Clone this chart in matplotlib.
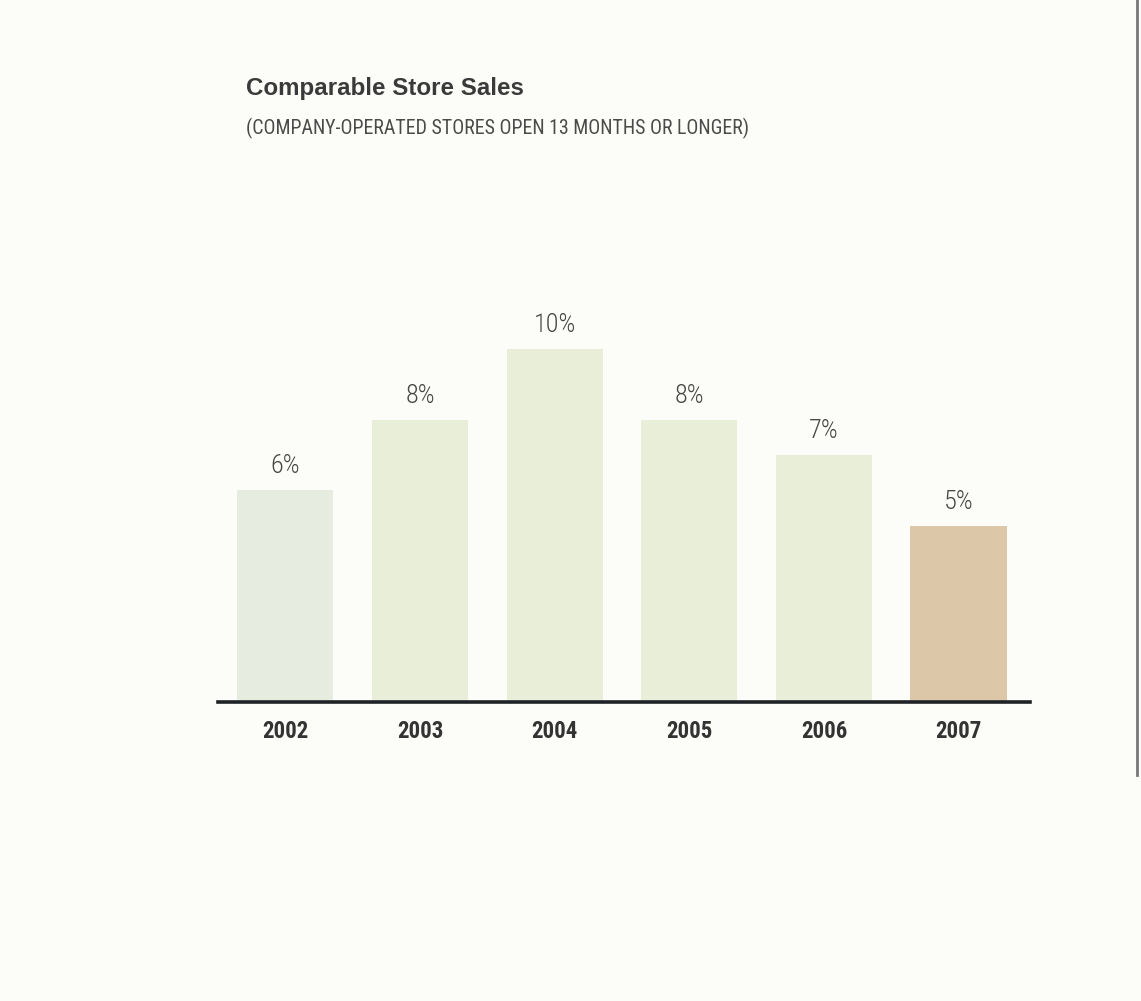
import matplotlib
matplotlib.use("Agg")
import matplotlib.pyplot as plt
from matplotlib.lines import Line2D

years = ["2002", "2003", "2004", "2005", "2006", "2007"]
values = [6, 8, 10, 8, 7, 5]
labels = ["6%", "8%", "10%", "8%", "7%", "5%"]
colors = ["#e6ecdf", "#e9eed9", "#e9eed9", "#e9eed9", "#e9eed9", "#dcc7a8"]

W, H = 1141, 1001
fig = plt.figure(figsize=(W / 100, H / 100), dpi=100)
fig.patch.set_facecolor("#fcfcf8")

cond = ["Roboto Condensed", "DejaVu Sans"]

ax = fig.add_axes([218 / W, (H - 702) / H, 812 / W, 402 / H])
ax.set_facecolor("none")
x = list(range(len(years)))
ax.bar(x, values, width=0.715, color=colors, edgecolor="none", zorder=1)
ax.set_xlim(-0.5, 5.53)
ax.set_ylim(0, 11.39)

for xi, v, lab in zip(x, values, labels):
    ax.text(xi, v + 0.34, lab, ha="center", va="bottom", fontsize=19,
            family=cond, fontweight="light", color="#474747")

for s in ["top", "right", "left"]:
    ax.spines[s].set_visible(False)
ax.spines["bottom"].set_linewidth(2.6)
ax.spines["bottom"].set_color("#1f2328")
ax.set_yticks([])
ax.set_xticks(x)
ax.set_xticklabels(years, fontsize=16.5, fontweight="bold", family=cond,
                   color="#333333")
ax.tick_params(axis="x", length=0, pad=13)

fig.text(246 / W, 1 - 88 / H, "Comparable Store Sales", fontsize=17.4,
         fontweight="bold", color="#3a3a3a", va="center", ha="left",
         family=["Liberation Sans", "DejaVu Sans"])
fig.text(246 / W, 1 - 128 / H,
         "(COMPANY-OPERATED STORES OPEN 13 MONTHS OR LONGER)",
         fontsize=14.3, color="#4a4a4a", va="center", ha="left", family=cond)

fig.add_artist(Line2D([1137 / W, 1137 / W], [1 - 775 / H, 1.0],
                      transform=fig.transFigure, color="#777777", lw=2))

fig.savefig("out.png", dpi=100, facecolor=fig.get_facecolor())
